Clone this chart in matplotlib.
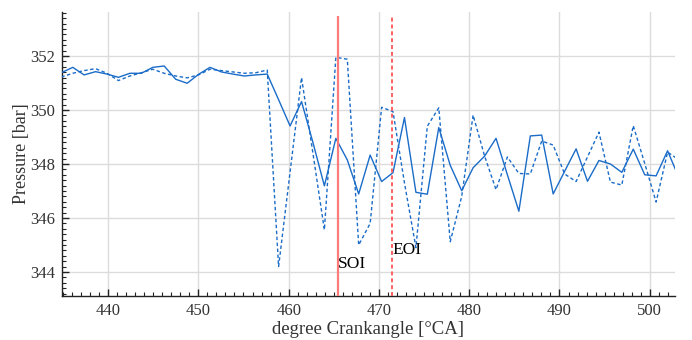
import numpy as np
import matplotlib
matplotlib.use("Agg")
import matplotlib.pyplot as plt
import matplotlib.ticker as mticker

plt.rcParams["font.family"] = ["Liberation Serif", "DejaVu Serif"]

# crank angle samples [°CA]
crank = [434.82, 436.09, 437.35, 438.62, 439.89, 441.15, 442.42, 443.69, 444.96, 446.22,
         447.49, 448.76, 450.02, 451.29, 452.56, 453.83, 455.09, 456.36, 457.63, 458.89,
         460.16, 461.43, 462.69, 463.96, 465.23, 466.50, 467.76, 469.03, 470.30, 471.56,
         472.83, 474.10, 475.36, 476.63, 477.90, 479.17, 480.43, 481.70, 482.97, 484.23,
         485.50, 486.77, 488.03, 489.30, 490.57, 491.84, 493.10, 494.37, 495.64, 496.90,
         498.17, 499.44, 500.70, 501.97, 503.24]

# rail pressure, cycle A (solid) [bar]
p_solid = [351.38, 351.58, 351.30, 351.42, 351.33, 351.21, 351.36, 351.36, 351.58, 351.63,
           351.14, 350.99, 351.32, 351.58, 351.41, 351.33, 351.26, 351.30, 351.33, 350.38,
           349.41, 350.31, 348.80, 347.19, 348.95, 348.15, 346.89, 348.33, 347.35, 347.68,
           349.72, 346.95, 346.88, 349.35, 347.95, 347.01, 347.86, 348.29, 348.95, 347.60,
           346.25, 349.04, 349.07, 346.89, 347.73, 348.56, 347.36, 348.13, 348.00, 347.69,
           348.55, 347.60, 347.56, 348.49, 347.48]

# rail pressure, cycle B (dashed) [bar]
p_dashed = [351.22, 351.36, 351.46, 351.53, 351.36, 351.09, 351.26, 351.38, 351.51, 351.36,
            351.26, 351.19, 351.30, 351.51, 351.46, 351.41, 351.36, 351.38, 351.48, 344.20,
            347.70, 351.20, 348.40, 345.56, 351.95, 351.88, 345.00, 345.80, 350.10, 349.94,
            347.30, 344.90, 349.40, 350.08, 345.12, 346.80, 349.81, 348.30, 347.05, 348.26,
            347.65, 347.63, 348.85, 348.70, 347.63, 347.35, 348.26, 349.18, 347.33, 347.22,
            349.42, 348.02, 346.59, 348.44, 348.15]

soi, eoi = 465.5, 471.5
blue = "#1a6cc8"

fig = plt.figure(figsize=(6.92, 3.40), dpi=100)
ax = fig.add_axes([0.0892, 0.1294, 0.8862, 0.8353])

ax.plot(crank, p_solid, color=blue, lw=1.0, zorder=3)
ax.plot(crank, p_dashed, color=blue, lw=1.0, ls=(0, (2.5, 1.8)), zorder=3)

ax.vlines(soi, 343.1, 353.5, colors="#ff7b7b", lw=1.6, zorder=4)
ax.vlines(eoi, 343.1, 353.5, colors="#ff5555", lw=1.3, linestyles=(0, (2.2, 1.6)), zorder=4)
ax.text(soi, 344.0, "SOI", fontsize=12.5, ha="left", va="bottom", color="black", zorder=5)
ax.text(eoi, 344.5, "EOI", fontsize=12.5, ha="left", va="bottom", color="black", zorder=5)

ax.set_xlim(434.87, 502.79)
ax.set_ylim(343.11, 353.63)

ax.xaxis.set_major_locator(mticker.MultipleLocator(10))
ax.xaxis.set_minor_locator(mticker.MultipleLocator(1))
ax.yaxis.set_major_locator(mticker.MultipleLocator(2))
ax.yaxis.set_minor_locator(mticker.MultipleLocator(0.2))

ax.grid(True, which="major", color="#dcdcdc", lw=1.0, zorder=0)
for side in ("top", "right"):
    ax.spines[side].set_visible(False)
for side in ("left", "bottom"):
    ax.spines[side].set_color("#222222")
    ax.spines[side].set_linewidth(1.0)

ax.tick_params(which="major", direction="in", length=5, width=1.0, color="#222222",
               labelsize=12, labelcolor="#333333", pad=5)
ax.tick_params(which="minor", direction="in", length=3, width=0.8, color="#222222")

ax.set_xlabel("degree Crankangle [°CA]", fontsize=13.5, color="#333333", labelpad=1.5)
ax.set_ylabel("Pressure [bar]", fontsize=13, color="#333333", labelpad=0)

fig.savefig("out.png", dpi=100, facecolor="white")
